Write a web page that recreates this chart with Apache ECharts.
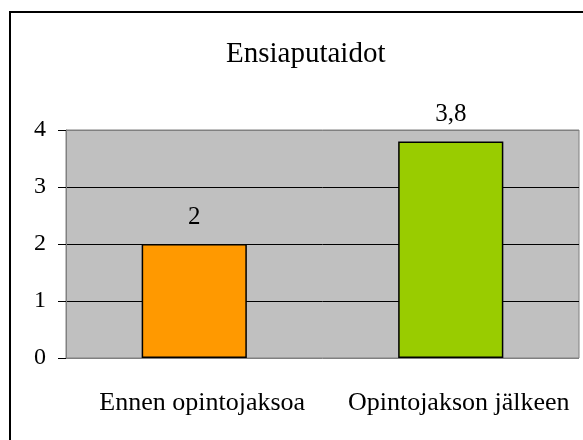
<!DOCTYPE html>
<html>
<head>
<meta charset="utf-8">
<script src="https://cdn.jsdelivr.net/npm/echarts@6/dist/echarts.min.js"></script>
<style>html,body{margin:0;padding:0;background:#fff;}#c{width:583px;height:440px;}</style>
</head>
<body>
<div id="c"></div>
<script>
var categories = ['Ennen opintojaksoa', 'Opintojakson jälkeen'];
var values = [2, 3.8];
var barColors = ['#FF9900', '#99CC00'];
var titleText = 'Ensiaputaidot';

var FONT = '"Liberation Serif", "Times New Roman", serif';
var chart = echarts.init(document.getElementById('c'), null, {renderer: 'canvas'});
chart.setOption({
  backgroundColor: '#ffffff',
  animation: false,
  title: {
    text: titleText, left: 221, top: 35,
    textStyle: {fontFamily: FONT, fontSize: 29, fontWeight: 'normal', color: '#000'}
  },
  graphic: [{
    type: 'rect', shape: {x: 10, y: 12, width: 700, height: 700},
    style: {fill: 'none', stroke: '#000', lineWidth: 2}, silent: true
  }],
  grid: {
    left: 66, top: 130, right: 4, bottom: 82,
    show: true, backgroundColor: '#C0C0C0', borderColor: '#808080', borderWidth: 1
  },
  xAxis: {
    type: 'category', data: categories,
    axisLine: {show: false}, axisTick: {show: false},
    axisLabel: {interval: 0, hideOverlap: false, fontFamily: FONT, fontSize: 26, color: '#000', margin: 32, padding: [0, 0, 0, 16]}
  },
  yAxis: {
    type: 'value', min: 0, max: 4, interval: 1,
    axisLine: {show: true, lineStyle: {color: '#808080', width: 1}},
    axisTick: {show: true, length: 8, lineStyle: {color: '#000'}},
    axisLabel: {fontFamily: FONT, fontSize: 24, color: '#000', margin: 20},
    splitLine: {show: true, lineStyle: {color: ['#808080', '#000', '#000', '#000', '#808080'], width: 1}}
  },
  series: [{
    type: 'bar', barWidth: '41%',
    data: values.map(function (v, i) {
      return {value: v, itemStyle: {color: barColors[i]}};
    }),
    itemStyle: {borderColor: '#000', borderWidth: 1.5},
    label: {
      show: true, position: 'top', distance: 14,
      fontFamily: FONT, fontSize: 25, color: '#000',
      formatter: function (p) { return String(p.value).replace('.', ','); }
    }
  }]
});
</script>
</body>
</html>
